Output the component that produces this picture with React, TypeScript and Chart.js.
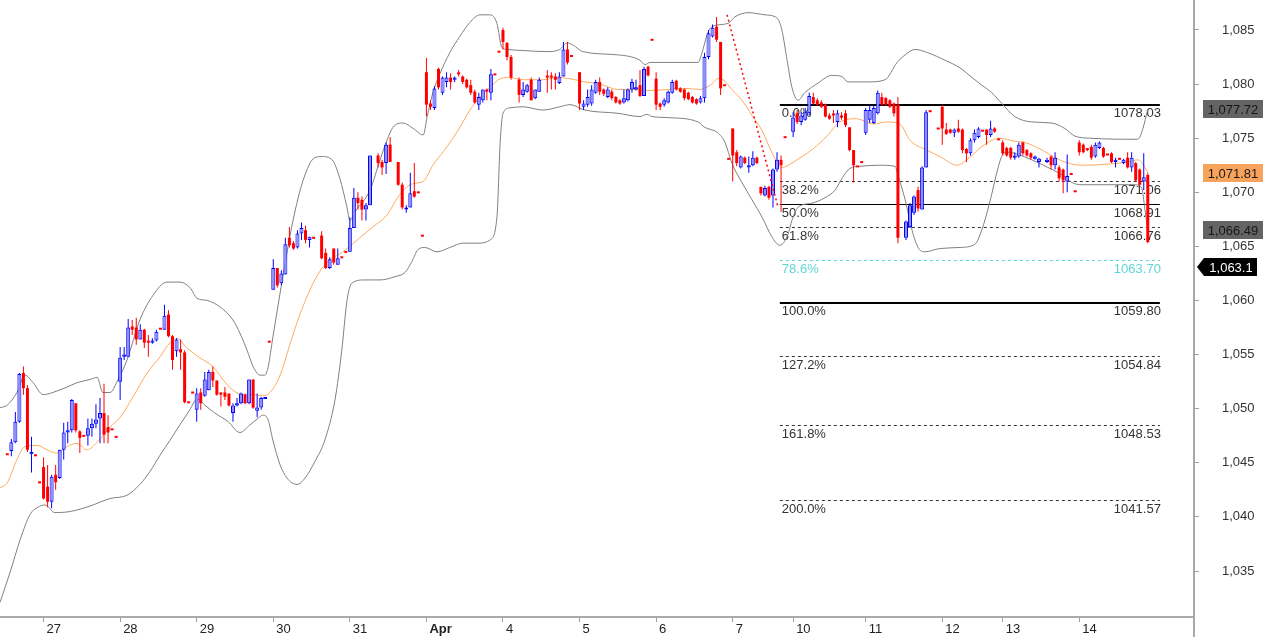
import React, { useEffect, useRef } from "react";
import { Chart, registerables } from "chart.js";

Chart.register(...registerables);

const FONT = "'Liberation Sans', Arial, sans-serif";

// ---- x axis (candle index) ----
const DAY_LABELS = ["27", "28", "29", "30", "31", "Apr", "4", "5", "6", "7", "10", "11", "12", "13", "14"];
const DAY_START = [9, 28, 47, 66, 85, 104, 123, 142, 161, 180, 195, 213, 232, 247, 266];
const X_MIN = -1.81;
const X_MAX = 294.47;

// ---- y axis ----
const Y_TICKS = [1035, 1040, 1045, 1050, 1055, 1060, 1065, 1070, 1075, 1080, 1085];
const Y_MIN = 1030.75;
const Y_MAX = 1087.77;

// ---- candles (one row per session) ----
const OPEN: (number | null)[] = [
  1045.7, 1046.1, 1046.9, 1048.8, 1053.3, 1051.9, 1045.8, 1045.6, 1043.1,
  1044.6, 1042.8, 1041.4, 1043.9, 1043.6, 1046.2, 1047.8, 1048.0, 1050.5, 1047.9, 1047.4, 1047.5, 1048.2, 1048.6, 1049.1, 1049.6, 1048.3, 1048.0, 1047.3,
  1052.5, 1054.8, 1054.8, 1057.6, 1057.5, 1056.4, 1057.3, 1056.2, 1056.1, 1056.3, 1057.3, 1057.3, 1058.7, 1056.7, 1055.3, 1055.5, 1055.2, 1050.5, 1051.4,
  1049.9, 1051.5, 1051.2, 1051.7, 1053.4, 1052.6, 1051.5, 1051.5, 1051.4, 1049.6, 1050.3, 1050.5, 1051.3, 1050.5, 1052.7, 1049.8, 1050.1, 1050.9, 1056.1,
  1061.0, 1063.0, 1061.6, 1062.4, 1065.8, 1065.3, 1064.9, 1066.2, 1066.5, 1065.6, 1065.7, null, 1066.0, 1064.4, 1063.0, 1064.8, 1063.3, 1063.9, 1064.4,
  1064.5, 1066.7, 1069.5, 1069.3, 1068.4, 1068.8, null, 1073.4, 1072.8, 1072.7, 1074.4, null, 1072.8, 1070.7, 1068.4, 1068.6, 1070.1, 1069.9, 1065.9,
  1081.1, 1078.2, 1077.8, 1081.4, 1079.2, 1080.2, 1080.6, 1080.4, 1081.0, 1080.7, 1080.4, 1079.9, 1079.3, 1078.1, 1078.5, 1079.5, 1079.2, 1080.8, 1082.9,
  1085.0, 1083.8, 1082.5, null, 1080.4, 1079.0, 1079.3, 1080.4, 1078.7, 1079.3, null, 1080.7, 1080.7, 1080.7, 1080.1, 1080.7, 1083.2, 1082.5, null,
  1081.1, 1077.9, 1078.1, 1078.2, 1079.2, 1080.2, 1079.5, 1078.8, 1079.3, 1078.8, 1078.5, 1078.3, 1078.5, 1079.5, 1079.5, 1079.9, 1078.9, 1081.6, 1084.0,
  1080.5, 1078.2, 1078.1, 1078.3, 1079.2, 1080.3, 1079.6, 1079.5, 1079.2, 1078.8, 1078.6, 1078.3, 1078.7, 1082.5, 1084.4, 1085.3, 1083.9, 1079.8, 1073.0,
  1075.9, 1073.7, 1072.3, 1073.2, 1072.3, 1072.5, 1073.2, 1070.5, 1069.7, 1070.5, 1069.7, 1072.1, 1073.0, 1075.0, null,
  1075.6, 1077.3, 1076.5, 1076.7, 1077.3, 1078.8, 1078.5, 1078.3, 1078.1, 1077.1, 1077.2, 1076.5, 1077.1, 1077.3, 1076.0, 1073.9, 1072.3, 1072.7,
  1075.5, 1076.7, 1076.4, 1077.3, 1078.8, 1078.7, 1078.5, 1078.2, 1078.1, null, 1065.8, 1066.8, 1068.1, 1070.2, 1068.4, 1072.3, 1077.4, null, 1075.8,
  1077.9, 1075.8, 1075.8, 1075.5, 1075.9, 1075.8, 1074.0, 1073.6, 1074.8, 1075.1, 1075.6, 1075.8, 1075.3, 1075.9, 1074.8,
  1074.6, 1074.1, 1074.1, 1073.2, 1073.3, 1074.6, 1073.9, 1073.6, 1073.1, 1072.8, null, 1072.8, 1073.3, 1072.5, 1072.3, 1072.1, 1071.0, 1071.6, 1070.0,
  1074.6, 1074.4, 1074.0, 1074.2, 1073.3, 1074.1, 1074.1, 1073.4, 1073.6, 1072.8, 1073.0, 1072.7, 1073.2, 1072.3, 1072.7, 1072.1, 1071.0, 1071.6,
];
const HIGH: (number | null)[] = [
  1045.7, 1047.2, 1049.7, 1053.3, 1053.9, 1052.2, 1047.4, 1045.6, 1043.1,
  1045.5, 1044.8, 1043.9, 1044.8, 1046.2, 1048.7, 1048.8, 1050.9, 1050.5, 1048.0, 1047.4, 1049.1, 1049.1, 1050.4, 1051.0, 1052.3, 1049.4, 1048.0, 1047.3,
  1055.7, 1055.7, 1058.3, 1058.2, 1058.4, 1057.8, 1057.4, 1056.8, 1056.5, 1057.3, 1057.3, 1059.6, 1059.1, 1056.8, 1056.5, 1056.4, 1055.4, 1050.5, 1051.4,
  1051.9, 1051.9, 1053.4, 1053.6, 1053.9, 1052.6, 1051.5, 1052.0, 1051.4, 1050.5, 1051.0, 1051.5, 1051.4, 1052.7, 1052.7, 1051.4, 1051.1, 1051.0, 1056.1,
  1063.8, 1063.0, 1062.8, 1065.8, 1066.8, 1065.5, 1066.5, 1067.2, 1066.9, 1065.9, 1065.7, null, 1066.4, 1064.8, 1064.0, 1064.8, 1064.8, 1063.9, 1064.4,
  1067.7, 1070.4, 1070.0, 1069.6, 1069.0, 1073.4, null, 1073.6, 1073.0, 1074.6, 1075.1, null, 1072.8, 1070.9, 1068.8, 1071.8, 1072.7, 1069.9, 1065.9,
  1082.4, 1078.5, 1079.8, 1081.5, 1080.7, 1081.1, 1081.0, 1080.7, 1081.3, 1080.8, 1080.5, 1080.4, 1079.5, 1079.2, 1079.5, 1079.6, 1081.4, 1080.8, 1082.9,
  1085.2, 1083.9, 1082.7, null, 1080.6, 1080.2, 1080.0, 1080.6, 1079.5, 1080.6, null, 1081.3, 1081.1, 1081.0, 1081.1, 1083.9, 1083.9, 1082.5, null,
  1081.1, 1078.5, 1079.5, 1079.9, 1080.4, 1080.6, 1079.6, 1079.7, 1079.5, 1078.9, 1078.6, 1079.5, 1079.6, 1080.5, 1080.4, 1081.3, 1081.6, 1081.7, 1084.0,
  1081.1, 1078.3, 1078.7, 1079.4, 1080.4, 1080.4, 1079.7, 1079.6, 1079.3, 1078.9, 1078.7, 1078.9, 1082.9, 1085.0, 1085.5, 1086.2, 1083.9, 1079.8, 1073.0,
  1075.9, 1073.9, 1073.4, 1073.3, 1073.3, 1073.8, 1073.3, 1070.5, 1070.6, 1070.6, 1072.2, 1073.7, 1073.4, 1075.0, null,
  1077.4, 1077.6, 1077.4, 1077.8, 1079.2, 1079.2, 1078.7, 1078.5, 1078.2, 1077.3, 1077.6, 1077.6, 1077.4, 1077.6, 1076.0, 1073.9, 1072.3, 1072.7,
  1077.8, 1078.1, 1078.0, 1079.4, 1079.2, 1078.8, 1078.6, 1078.3, 1078.8, null, 1067.4, 1069.0, 1069.7, 1070.5, 1072.4, 1077.6, 1077.4, null, 1075.8,
  1078.1, 1076.4, 1075.9, 1075.9, 1076.7, 1075.9, 1074.1, 1075.0, 1075.8, 1076.0, 1075.6, 1075.8, 1076.6, 1076.0, 1074.8,
  1074.8, 1074.2, 1074.2, 1073.7, 1074.6, 1074.7, 1074.0, 1073.7, 1073.4, 1073.2, null, 1073.2, 1073.4, 1073.7, 1072.5, 1072.2, 1073.5, 1071.6, 1070.0,
  1074.8, 1074.5, 1074.1, 1074.4, 1074.6, 1074.7, 1074.2, 1073.4, 1073.7, 1073.2, 1073.0, 1073.1, 1073.7, 1073.7, 1072.8, 1072.2, 1073.6, 1071.8,
];
const LOW: (number | null)[] = [
  1045.7, 1045.6, 1046.8, 1048.7, 1051.3, 1046.0, 1044.1, 1045.6, 1043.1,
  1041.6, 1040.9, 1040.8, 1042.5, 1043.5, 1045.3, 1046.8, 1047.8, 1047.8, 1045.9, 1047.4, 1046.6, 1047.4, 1048.2, 1046.8, 1046.8, 1046.8, 1048.0, 1047.3,
  1050.8, 1054.5, 1054.8, 1056.8, 1055.9, 1056.4, 1055.6, 1054.8, 1056.0, 1056.2, 1057.3, 1057.3, 1056.6, 1053.6, 1054.8, 1053.6, 1050.5, 1050.5, 1051.4,
  1048.8, 1049.9, 1051.1, 1051.7, 1052.0, 1051.2, 1050.2, 1050.8, 1050.2, 1048.8, 1050.2, 1050.4, 1050.4, 1050.4, 1050.0, 1049.2, 1049.9, 1050.9, 1056.1,
  1061.0, 1061.2, 1061.4, 1062.4, 1064.9, 1064.7, 1064.8, 1065.6, 1065.3, 1064.9, 1065.7, null, 1063.8, 1062.9, 1062.9, 1063.3, 1063.3, 1063.9, 1064.4,
  1064.5, 1066.7, 1068.4, 1067.4, 1067.4, 1068.8, null, 1072.3, 1071.6, 1071.7, 1072.8, null, 1070.6, 1068.4, 1068.1, 1068.6, 1069.5, 1069.9, 1065.9,
  1077.0, 1077.6, 1077.6, 1079.5, 1079.0, 1079.7, 1079.5, 1080.2, 1080.7, 1080.0, 1079.6, 1079.0, 1078.2, 1077.6, 1078.3, 1078.5, 1078.5, 1080.8, 1082.9,
  1083.2, 1082.2, 1080.4, null, 1078.3, 1078.8, 1079.2, 1078.5, 1078.6, 1079.3, null, 1079.2, 1079.5, 1079.5, 1080.0, 1080.7, 1081.8, 1082.5, null,
  1077.6, 1077.6, 1077.9, 1078.0, 1079.1, 1079.0, 1078.9, 1078.7, 1078.5, 1078.2, 1078.1, 1078.2, 1078.4, 1079.2, 1079.4, 1078.8, 1078.9, 1080.7, 1084.0,
  1077.6, 1077.6, 1077.9, 1078.2, 1079.1, 1079.4, 1079.2, 1078.5, 1078.5, 1078.2, 1078.1, 1078.2, 1078.3, 1082.3, 1084.3, 1083.9, 1079.0, 1079.8, 1073.0,
  1071.0, 1072.4, 1072.2, 1072.6, 1071.8, 1072.4, 1072.6, 1069.7, 1069.6, 1069.3, 1068.6, 1071.9, 1068.2, 1075.0, null,
  1075.1, 1076.3, 1076.2, 1076.6, 1077.1, 1078.1, 1078.0, 1077.8, 1076.9, 1076.7, 1076.4, 1076.0, 1076.7, 1076.0, 1073.8, 1070.9, 1072.3, 1072.7,
  1075.3, 1076.4, 1076.3, 1077.2, 1078.0, 1078.0, 1077.8, 1077.0, 1065.3, null, 1065.6, 1066.7, 1067.9, 1068.2, 1068.4, 1072.3, 1077.4, null, 1075.8,
  1074.4, 1075.3, 1075.4, 1075.1, 1075.5, 1073.6, 1072.8, 1073.4, 1074.6, 1075.0, 1075.6, 1074.4, 1075.1, 1075.5, 1074.8,
  1073.4, 1073.3, 1073.0, 1073.0, 1073.2, 1073.4, 1073.3, 1073.0, 1073.0, 1072.3, null, 1072.7, 1072.1, 1072.1, 1071.0, 1069.9, 1070.0, 1071.6, 1070.0,
  1073.4, 1073.6, 1073.8, 1073.0, 1073.2, 1074.0, 1073.2, 1073.4, 1072.7, 1072.3, 1073.0, 1072.6, 1072.2, 1071.9, 1071.0, 1070.6, 1070.2, 1065.3,
];
const CLOSE: (number | null)[] = [
  1045.7, 1046.9, 1048.8, 1053.2, 1051.9, 1046.2, 1046.0, 1045.6, 1043.1,
  1041.7, 1041.4, 1043.7, 1043.2, 1046.2, 1047.8, 1048.0, 1050.8, 1048.0, 1047.3, 1047.4, 1048.2, 1048.6, 1049.0, 1049.6, 1047.6, 1047.8, 1048.0, 1047.3,
  1054.7, 1055.0, 1057.5, 1057.3, 1056.4, 1057.3, 1056.1, 1056.1, 1056.3, 1057.1, 1057.3, 1058.6, 1056.7, 1054.5, 1056.4, 1055.2, 1050.6, 1050.5, 1051.4,
  1051.4, 1050.5, 1052.7, 1053.4, 1052.6, 1051.3, 1051.3, 1051.1, 1050.3, 1050.3, 1050.5, 1051.4, 1050.5, 1052.7, 1050.1, 1050.1, 1051.0, 1051.0, 1056.1,
  1063.0, 1061.4, 1062.5, 1065.2, 1065.1, 1064.8, 1066.2, 1066.7, 1065.6, 1065.9, 1065.7, null, 1063.9, 1063.0, 1063.8, 1063.5, 1063.9, 1063.9, 1064.4,
  1066.7, 1069.5, 1069.0, 1068.4, 1068.8, 1073.4, null, 1072.7, 1072.3, 1074.4, 1072.8, null, 1070.7, 1068.6, 1068.6, 1069.9, 1069.6, 1069.9, 1065.9,
  1078.1, 1077.9, 1079.6, 1079.7, 1080.6, 1080.6, 1080.2, 1080.6, 1080.9, 1080.2, 1079.7, 1079.2, 1078.3, 1078.8, 1079.5, 1079.3, 1080.9, 1080.8, 1082.9,
  1083.9, 1082.5, 1080.6, null, 1079.0, 1079.5, 1079.9, 1078.5, 1079.5, 1080.4, null, 1080.6, 1080.6, 1080.4, 1080.7, 1083.2, 1082.0, 1082.5, null,
  1078.2, 1078.2, 1078.8, 1079.5, 1080.2, 1079.3, 1079.1, 1079.5, 1078.7, 1078.3, 1078.2, 1078.7, 1079.5, 1080.2, 1079.7, 1078.9, 1081.4, 1080.8, 1084.0,
  1078.1, 1077.9, 1078.5, 1079.3, 1080.2, 1079.5, 1079.3, 1078.7, 1078.6, 1078.3, 1078.2, 1078.7, 1082.5, 1084.7, 1085.2, 1084.1, 1079.6, 1079.8, 1073.0,
  1073.4, 1072.7, 1073.3, 1072.7, 1072.5, 1073.2, 1072.7, 1069.9, 1070.4, 1069.5, 1072.1, 1073.0, 1072.5, 1075.0, null,
  1076.9, 1076.5, 1077.1, 1077.4, 1078.9, 1078.2, 1078.1, 1077.9, 1077.0, 1076.8, 1077.1, 1077.3, 1076.9, 1076.2, 1073.9, 1072.5, 1072.3, 1072.7,
  1077.6, 1077.6, 1077.8, 1079.2, 1078.1, 1078.1, 1077.9, 1077.3, 1065.8, null, 1067.3, 1068.8, 1069.6, 1068.5, 1072.3, 1077.4, 1077.4, null, 1075.8,
  1075.9, 1075.4, 1075.5, 1075.8, 1075.6, 1073.9, 1073.6, 1074.8, 1075.5, 1075.9, 1075.6, 1075.3, 1075.9, 1075.6, 1074.8,
  1073.6, 1073.4, 1073.2, 1073.4, 1074.4, 1073.6, 1073.4, 1073.2, 1073.3, 1073.1, null, 1073.0, 1072.5, 1073.2, 1071.3, 1071.1, 1071.5, 1071.6, 1070.0,
  1073.7, 1073.7, 1073.9, 1073.2, 1074.4, 1074.6, 1073.3, 1073.4, 1072.8, 1073.0, 1073.0, 1073.0, 1072.3, 1073.2, 1071.1, 1070.7, 1071.4, 1065.4,
];

// ---- Bollinger bands and moving average ----
const UPPER_X = [-1.8, -0.1, 2.4, 4.4, 6.4, 8.9, 11.3, 14.8, 17.3, 20.5, 22.3, 23.7, 25.5, 27.5, 29.7, 32.9, 36.2, 39.6, 42.8, 45.3, 47.1, 49.6, 52.8, 56.0, 57.7, 59.5, 61.0, 62.7, 63.9, 64.7, 65.9, 67.7, 69.4, 70.9, 73.4, 76.3, 78.1, 80.6, 82.5, 84.3, 85.0, 86.3, 90.0, 92.5, 94.2, 95.7, 98.2, 100.7, 103.2, 104.2, 105.6, 107.4, 109.8, 112.3, 114.8, 117.3, 119.8, 121.5, 122.7, 124.0, 127.9, 133.9, 137.1, 138.9, 140.4, 142.8, 151.5, 157.0, 158.2, 159.5, 171.4, 172.4, 173.6, 174.8, 178.8, 180.5, 183.8, 188.0, 191.0, 192.2, 193.5, 194.7, 196.2, 197.9, 201.2, 204.6, 207.1, 208.6, 213.6, 217.8, 220.8, 222.8, 225.2, 228.4, 232.7, 236.4, 239.4, 241.8, 244.3, 246.8, 250.0, 254.2, 259.2, 262.4, 264.9, 268.6, 280.5, 281.8, 283.0];
const UPPER_Y = [1050.1, 1050.3, 1051.5, 1053.1, 1052.4, 1051.3, 1051.5, 1052.0, 1052.4, 1052.7, 1052.9, 1051.5, 1051.5, 1052.7, 1054.5, 1058.2, 1060.5, 1061.7, 1061.7, 1061.2, 1060.2, 1060.0, 1059.4, 1058.2, 1057.0, 1055.4, 1053.9, 1053.1, 1053.1, 1053.8, 1056.6, 1060.7, 1064.4, 1067.4, 1071.1, 1073.2, 1073.3, 1073.0, 1071.3, 1068.6, 1067.4, 1068.2, 1070.2, 1073.0, 1074.8, 1076.0, 1076.4, 1075.9, 1075.3, 1077.0, 1079.2, 1081.0, 1082.9, 1084.4, 1085.7, 1086.4, 1086.4, 1085.6, 1083.4, 1083.2, 1083.1, 1083.0, 1083.2, 1083.8, 1083.6, 1083.0, 1082.7, 1082.2, 1081.8, 1082.0, 1082.0, 1082.9, 1084.5, 1085.3, 1085.6, 1086.2, 1086.6, 1086.4, 1086.1, 1085.0, 1082.2, 1079.7, 1078.5, 1079.2, 1080.1, 1080.8, 1080.7, 1080.2, 1080.2, 1080.4, 1082.0, 1082.7, 1083.2, 1082.9, 1082.2, 1081.5, 1080.6, 1079.9, 1079.2, 1078.2, 1077.0, 1076.5, 1076.4, 1075.9, 1075.2, 1075.0, 1074.9, 1075.9, 1077.72];
const LOWER_X = [-1.8, 0.7, 3.2, 5.6, 7.6, 9.4, 11.8, 15.6, 20.5, 25.5, 29.7, 32.9, 35.4, 37.9, 40.4, 42.8, 45.3, 47.1, 49.1, 51.5, 54.8, 57.7, 60.2, 62.2, 63.4, 64.7, 65.9, 67.7, 69.4, 71.9, 73.9, 76.3, 78.8, 81.3, 83.0, 84.3, 85.5, 88.7, 92.5, 96.2, 98.7, 100.4, 101.9, 103.6, 106.6, 109.8, 113.1, 117.3, 119.8, 121.5, 122.3, 123.0, 124.7, 128.0, 132.9, 137.1, 139.6, 143.3, 151.5, 157.0, 158.7, 160.0, 164.0, 171.4, 173.1, 176.3, 178.1, 179.8, 182.3, 184.8, 187.3, 189.7, 191.7, 193.7, 194.7, 196.2, 199.7, 202.9, 205.4, 207.3, 209.1, 211.6, 216.5, 220.3, 221.0, 222.8, 224.5, 226.0, 227.7, 231.4, 236.4, 240.1, 241.8, 243.8, 245.8, 247.0, 248.3, 250.8, 254.2, 258.2, 261.7, 264.2, 266.6, 279.8, 281.5, 282.3, 283.0];
const LOWER_Y = [1032.1, 1034.9, 1037.9, 1040.2, 1040.9, 1041.1, 1040.4, 1040.5, 1041.0, 1041.7, 1042.0, 1043.0, 1044.2, 1045.7, 1047.1, 1048.5, 1049.9, 1050.9, 1050.3, 1049.6, 1048.8, 1047.8, 1048.5, 1049.1, 1049.4, 1049.0, 1047.1, 1044.8, 1043.6, 1043.0, 1043.6, 1045.1, 1047.1, 1050.8, 1055.4, 1060.0, 1061.6, 1061.9, 1061.9, 1062.2, 1062.6, 1063.6, 1064.7, 1064.9, 1064.5, 1064.9, 1065.3, 1065.3, 1065.6, 1067.7, 1074.6, 1077.3, 1077.8, 1077.9, 1077.6, 1077.9, 1078.1, 1077.6, 1077.3, 1077.0, 1077.2, 1077.0, 1076.9, 1076.5, 1076.0, 1075.5, 1074.6, 1072.7, 1070.9, 1069.3, 1067.7, 1065.9, 1065.1, 1066.1, 1067.4, 1068.6, 1069.0, 1069.5, 1070.2, 1071.4, 1072.2, 1072.4, 1072.5, 1072.4, 1071.6, 1069.3, 1066.5, 1064.9, 1064.5, 1064.8, 1064.9, 1065.2, 1066.5, 1069.1, 1072.2, 1073.5, 1073.7, 1073.5, 1073.0, 1072.3, 1071.6, 1070.9, 1070.7, 1070.7, 1070.4, 1068.4, 1066.49];
const MA_X = [-1.8, -0.1, 2.4, 4.4, 7.4, 9.9, 12.3, 14.8, 17.3, 19.8, 22.3, 25.5, 28.0, 31.2, 34.7, 37.9, 40.4, 42.1, 44.6, 47.8, 51.0, 53.5, 56.0, 58.5, 61.0, 63.4, 65.2, 67.7, 70.1, 72.6, 76.3, 79.3, 83.3, 87.5, 90.7, 94.2, 97.4, 100.7, 103.2, 105.6, 109.1, 112.3, 114.8, 117.3, 119.8, 122.3, 124.7, 128.0, 132.9, 136.4, 139.6, 143.3, 147.1, 151.5, 155.3, 158.7, 163.7, 168.2, 171.9, 174.8, 176.3, 177.6, 179.8, 182.3, 184.8, 187.3, 189.7, 192.2, 194.7, 197.2, 199.9, 203.4, 206.6, 210.8, 214.8, 218.3, 221.5, 224.0, 228.2, 231.9, 235.6, 238.1, 242.1, 246.3, 250.1, 252.5, 256.8, 260.0, 263.2, 266.7, 273.1, 278.1, 280.6, 282.3, 283.0];
const MA_Y = [1042.7, 1043.1, 1045.3, 1046.5, 1046.6, 1046.2, 1045.9, 1046.5, 1046.8, 1046.2, 1046.9, 1048.3, 1049.2, 1051.1, 1053.3, 1054.8, 1056.1, 1056.5, 1055.6, 1054.7, 1053.9, 1052.7, 1051.7, 1051.3, 1051.3, 1051.2, 1051.5, 1053.1, 1055.9, 1058.7, 1061.9, 1063.5, 1064.5, 1065.8, 1066.8, 1067.9, 1069.8, 1070.8, 1071.0, 1072.5, 1074.2, 1076.0, 1077.6, 1078.8, 1079.7, 1080.5, 1080.6, 1080.4, 1080.4, 1080.6, 1080.5, 1080.2, 1080.0, 1079.5, 1079.5, 1079.4, 1079.5, 1079.6, 1079.5, 1080.0, 1080.5, 1080.4, 1079.5, 1078.5, 1077.1, 1075.7, 1073.7, 1072.3, 1072.7, 1073.3, 1074.0, 1075.2, 1076.5, 1076.8, 1076.3, 1076.5, 1076.3, 1074.8, 1073.9, 1073.2, 1072.5, 1073.0, 1074.3, 1075.0, 1074.7, 1074.6, 1073.9, 1073.2, 1072.7, 1072.5, 1072.6, 1072.8, 1073.0, 1072.3, 1071.81];

// ---- trend line ----
const TREND_X = [178.6, 191.2];
const TREND_Y = [1086.4, 1068.7];

// ---- Fibonacci levels ----
const FIB_LABELS = ["0.0%", "38.2%", "50.0%", "61.8%", "78.6%", "100.0%", "127.2%", "161.8%", "200.0%"];
const FIB_VALUES = [1078.03, 1071.06, 1068.91, 1066.76, 1063.7, 1059.8, 1054.84, 1048.53, 1041.57];
const FIB_RANGE = [191.7, 286.0];

// ---- price tags on the axis ----
const TAG_VALUES = [1077.72, 1071.81, 1066.49, 1063.1];
const TAG_TEXT = ["1,077.72", "1,071.81", "1,066.49", "1,063.1"];

// styles
const FIB_STYLE = [
  { w: 2, dash: [] as number[], color: "#000", text: "#333" },
  { w: 1, dash: [3, 3], color: "#333", text: "#333" },
  { w: 1, dash: [] as number[], color: "#000", text: "#333" },
  { w: 1, dash: [3, 3], color: "#333", text: "#333" },
  { w: 1, dash: [3, 3], color: "#5fd6d6", text: "#5fd6d6" },
  { w: 2, dash: [] as number[], color: "#000", text: "#333" },
  { w: 1, dash: [3, 3], color: "#333", text: "#333" },
  { w: 1, dash: [3, 3], color: "#333", text: "#333" },
  { w: 1, dash: [3, 3], color: "#333", text: "#333" },
];
const TAG_STYLE = [
  { bg: "#646464", fg: "#161616", arrow: false },
  { bg: "#f8a35c", fg: "#1a1a1a", arrow: false },
  { bg: "#646464", fg: "#161616", arrow: false },
  { bg: "#000000", fg: "#ffffff", arrow: true },
];

const overlayPlugin = {
  id: "overlay",
  beforeDatasetsDraw(chart: any) {
    const { ctx, scales } = chart;
    const x = scales.x;
    const y = scales.y;
    const x0 = x.getPixelForValue(FIB_RANGE[0]);
    const x1 = x.getPixelForValue(FIB_RANGE[1]);
    ctx.save();
    ctx.font = `13px ${FONT}`;
    FIB_VALUES.forEach((v, k) => {
      const st = FIB_STYLE[k];
      const py = Math.round(y.getPixelForValue(v)) + (st.w % 2 ? 0.5 : 0);
      ctx.beginPath();
      ctx.setLineDash(st.dash);
      ctx.lineWidth = st.w;
      ctx.strokeStyle = st.color;
      ctx.moveTo(x0, py);
      ctx.lineTo(x1, py);
      ctx.stroke();
      ctx.setLineDash([]);
      ctx.fillStyle = st.text;
      ctx.textBaseline = "top";
      ctx.textAlign = "left";
      ctx.fillText(FIB_LABELS[k], x0 + 2, py + 2);
      ctx.textAlign = "right";
      ctx.fillText(v.toFixed(2), x1 + 1, py + 2);
    });
    ctx.restore();
  },
  afterDraw(chart: any) {
    const { ctx, chartArea, scales } = chart;
    const y = scales.y;
    ctx.save();
    ctx.strokeStyle = "#a9a9a9";
    ctx.lineWidth = 2;
    ctx.beginPath();
    ctx.moveTo(chartArea.right, chartArea.bottom - 1);
    ctx.lineTo(chartArea.right, chart.height);
    ctx.stroke();
    ctx.font = `13px ${FONT}`;
    ctx.textBaseline = "middle";
    ctx.textAlign = "center";
    TAG_VALUES.forEach((v, k) => {
      const st = TAG_STYLE[k];
      const py = Math.round(y.getPixelForValue(v));
      const left = chartArea.right + 9;
      const right = chartArea.right + 69;
      ctx.fillStyle = st.bg;
      if (st.arrow) {
        const r = chartArea.right + 63;
        ctx.beginPath();
        ctx.moveTo(chartArea.right + 3, py);
        ctx.lineTo(left + 1, py - 9);
        ctx.lineTo(r, py - 9);
        ctx.lineTo(r, py + 9);
        ctx.lineTo(left + 1, py + 9);
        ctx.closePath();
        ctx.fill();
        ctx.fillStyle = st.fg;
        ctx.fillText(TAG_TEXT[k], (left + r) / 2 + 1, py + 1);
      } else {
        ctx.fillRect(left, py - 9, right - left, 18);
        ctx.fillStyle = st.fg;
        ctx.fillText(TAG_TEXT[k], (left + right) / 2, py + 1);
      }
    });
    ctx.restore();
  },
};

export default function App() {
  const ref = useRef<HTMLCanvasElement>(null);

  useEffect(() => {
    const all = OPEN.map((_, i) => i).filter((i) => OPEN[i] !== null);
    const bull = all.filter((i) => (CLOSE[i] as number) > (OPEN[i] as number));
    const bear = all.filter((i) => (CLOSE[i] as number) <= (OPEN[i] as number));

    const barCommon = {
      type: "bar" as const,
      grouped: false,
      borderSkipped: false,
      inflateAmount: 0,
    };

    const datasets: any[] = [
      {
        type: "line",
        label: "upper",
        data: UPPER_X.map((x, k) => ({ x, y: UPPER_Y[k] })),
        borderColor: "#808080",
        borderWidth: 1,
        pointRadius: 0,
        cubicInterpolationMode: "monotone",
        order: 5,
      },
      {
        type: "line",
        label: "lower",
        data: LOWER_X.map((x, k) => ({ x, y: LOWER_Y[k] })),
        borderColor: "#808080",
        borderWidth: 1,
        pointRadius: 0,
        cubicInterpolationMode: "monotone",
        order: 5,
      },
      {
        type: "line",
        label: "ma",
        data: MA_X.map((x, k) => ({ x, y: MA_Y[k] })),
        borderColor: "#ffab5e",
        borderWidth: 1,
        pointRadius: 0,
        cubicInterpolationMode: "monotone",
        order: 4,
      },
      {
        ...barCommon,
        label: "bullWick",
        data: bull.map((i) => ({ x: i, y: [LOW[i], HIGH[i]] })),
        backgroundColor: "#0000ff",
        barThickness: 1,
        order: 3,
      },
      {
        ...barCommon,
        label: "bearWick",
        data: bear.map((i) => ({ x: i, y: [LOW[i], HIGH[i]] })),
        backgroundColor: "#ff0000",
        barThickness: 1,
        order: 3,
      },
      {
        ...barCommon,
        label: "bullBody",
        data: bull.map((i) => ({ x: i, y: [OPEN[i], CLOSE[i]] })),
        backgroundColor: "#9090f8",
        borderColor: "#0000ff",
        borderWidth: 1,
        barThickness: 4,
        minBarLength: 2,
        order: 2,
      },
      {
        ...barCommon,
        label: "bearBody",
        data: bear.map((i) => ({ x: i, y: [OPEN[i], CLOSE[i]] })),
        backgroundColor: "#ff0000",
        borderWidth: 0,
        barThickness: 3,
        minBarLength: 2,
        order: 2,
      },
      {
        type: "line",
        label: "trend",
        data: TREND_X.map((x, k) => ({ x, y: TREND_Y[k] })),
        borderColor: "#ff0000",
        borderWidth: 1.5,
        borderDash: [2, 3],
        pointRadius: 0,
        order: 1,
      },
    ];

    const chart = new Chart(ref.current as HTMLCanvasElement, {
      type: "bar",
      data: { datasets },
      options: {
        animation: false,
        responsive: false,
        devicePixelRatio: 1,
        layout: { padding: 0 },
        plugins: { legend: { display: false }, tooltip: { enabled: false } },
        scales: {
          x: {
            type: "linear",
            position: "bottom",
            min: X_MIN,
            max: X_MAX,
            offset: false,
            grid: {
              offset: false,
              drawOnChartArea: false,
              drawTicks: true,
              tickLength: 5,
              color: "#a0a0a0",
            },
            border: { display: true, color: "#a9a9a9", width: 2 },
            afterBuildTicks: (s: any) => {
              s.ticks = DAY_START.map((v) => ({ value: v }));
            },
            afterFit: (s: any) => {
              s.height = 20;
              s.paddingLeft = 0;
              s.paddingRight = 0;
            },
            ticks: {
              autoSkip: false,
              maxRotation: 0,
              minRotation: 0,
              align: "start",
              labelOffset: 3,
              padding: 0,
              color: "#222",
              font: (ctx: any) => ({
                family: FONT,
                size: 13,
                weight: DAY_LABELS[ctx.index] === "Apr" ? "bold" : "normal",
              }),
              callback: (_v: any, index: number) => DAY_LABELS[index],
            },
          },
          y: {
            type: "linear",
            position: "right",
            min: Y_MIN,
            max: Y_MAX,
            beginAtZero: false,
            grid: {
              drawOnChartArea: false,
              drawTicks: true,
              tickLength: 5,
              color: "#a0a0a0",
            },
            border: { display: true, color: "#a9a9a9", width: 2 },
            afterBuildTicks: (s: any) => {
              s.ticks = Y_TICKS.map((v) => ({ value: v }));
            },
            afterFit: (s: any) => {
              s.width = 73;
              s.paddingTop = 0;
              s.paddingBottom = 0;
            },
            ticks: {
              padding: 23,
              color: "#333",
              font: { family: FONT, size: 13 },
              callback: (v: any) => Number(v).toLocaleString("en-US"),
            },
          },
        },
      } as any,
      plugins: [overlayPlugin],
    });
    return () => chart.destroy();
  }, []);

  return (
    <div style={{ position: "fixed", left: 0, top: 0, width: 1267, height: 637, background: "#fff" }}>
      <canvas ref={ref} width={1267} height={637} style={{ display: "block" }} />
    </div>
  );
}
